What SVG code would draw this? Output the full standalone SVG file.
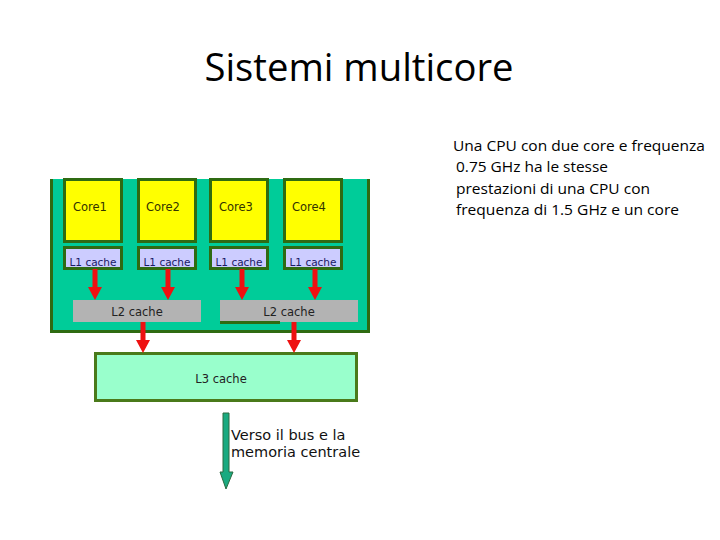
<svg xmlns="http://www.w3.org/2000/svg" width="720" height="540" viewBox="0 0 720 540">
<style>
.core{fill:#ffff00;stroke:#2f6b12;stroke-width:3}
.l1{fill:#ccccff;stroke:#2f6b12;stroke-width:3}
.l2{fill:#b3b3b3}
.lbl{font-family:"DejaVu Sans",sans-serif;font-size:11.5px}
.small{font-size:10.5px}
.body{font-family:"Open Sans","Liberation Sans",sans-serif;font-size:15px;fill:#000}
.red{fill:#ee1111}
</style>
<defs>
<path id="rarrow" d="M-2.5,0 H2.5 V18 H7 L0,31 L-7,18 H-2.5 Z"/>
</defs>
<rect width="720" height="540" fill="#ffffff"/>
<text x="359" y="81" text-anchor="middle" font-family="Open Sans, Liberation Sans, sans-serif" font-size="38" fill="#000" textLength="309" lengthAdjust="spacingAndGlyphs">Sistemi multicore</text>
<g id="desc">
<text class="body" x="453" y="151" textLength="252" lengthAdjust="spacingAndGlyphs">Una CPU con due core e frequenza</text>
<text class="body" x="456" y="172" textLength="152" lengthAdjust="spacingAndGlyphs">0.75 GHz ha le stesse</text>
<text class="body" x="456" y="194" textLength="194" lengthAdjust="spacingAndGlyphs">prestazioni di una CPU con</text>
<text class="body" x="456" y="215" textLength="223" lengthAdjust="spacingAndGlyphs">frequenza di 1.5 GHz e un core</text>
</g>
<g id="chip">
<path d="M51.5,179 V331.5 H368.5 V179" fill="#00cc99" stroke="#2f6b12" stroke-width="3"/>
</g>
<g id="core1"><rect class="core" x="64.5" y="179.5" width="57" height="62"/><text class="lbl" x="73" y="211" fill="#333300">Core1</text></g>
<g id="core2"><rect class="core" x="138.5" y="179.5" width="57" height="62"/><text class="lbl" x="146" y="211" fill="#333300">Core2</text></g>
<g id="core3"><rect class="core" x="210.5" y="179.5" width="57" height="62"/><text class="lbl" x="219" y="211" fill="#333300">Core3</text></g>
<g id="core4"><rect class="core" x="284.5" y="179.5" width="57" height="62"/><text class="lbl" x="292" y="211" fill="#333300">Core4</text></g>
<g id="l1a"><rect class="l1" x="64.5" y="247.5" width="57" height="21"/><text class="lbl small" x="93" y="266" text-anchor="middle" fill="#1a1a66">L1 cache</text></g>
<g id="l1b"><rect class="l1" x="138.5" y="247.5" width="57" height="21"/><text class="lbl small" x="167" y="266" text-anchor="middle" fill="#1a1a66">L1 cache</text></g>
<g id="l1c"><rect class="l1" x="210.5" y="247.5" width="57" height="21"/><text class="lbl small" x="239" y="266" text-anchor="middle" fill="#1a1a66">L1 cache</text></g>
<g id="l1d"><rect class="l1" x="284.5" y="247.5" width="57" height="21"/><text class="lbl small" x="313" y="266" text-anchor="middle" fill="#1a1a66">L1 cache</text></g>
<g id="l2a"><rect class="l2" x="73" y="300" width="128" height="22"/><text class="lbl" x="137" y="316" text-anchor="middle" fill="#222">L2 cache</text></g>
<g id="l2b"><rect class="l2" x="220" y="300" width="138" height="22"/><rect x="220" y="321" width="60" height="3" fill="#2f6b12"/><text class="lbl" x="289" y="316" text-anchor="middle" fill="#222">L2 cache</text></g>
<g id="l3"><rect x="95.5" y="353.5" width="261" height="47" fill="#99ffcc" stroke="#4a7a1a" stroke-width="3"/><text class="lbl" x="221" y="383" text-anchor="middle" fill="#222">L3 cache</text></g>
<g id="connectors">
<use href="#rarrow" class="red" x="95" y="269"/>
<use href="#rarrow" class="red" x="168" y="269"/>
<use href="#rarrow" class="red" x="242" y="269"/>
<use href="#rarrow" class="red" x="315" y="269"/>
<use href="#rarrow" class="red" x="143" y="322"/>
<use href="#rarrow" class="red" x="294" y="322"/>
<path d="M223,413 H229 V472 H233 L226,489 L220,472 H223 Z" fill="#1aaa80" stroke="#2a6a40" stroke-width="1"/>
</g>
<g id="bus-label">
<text x="231" y="440" font-family="DejaVu Sans, sans-serif" font-size="14.5" fill="#111">Verso il bus e la</text>
<text x="231" y="457" font-family="DejaVu Sans, sans-serif" font-size="14.5" fill="#111">memoria centrale</text>
</g>
</svg>
